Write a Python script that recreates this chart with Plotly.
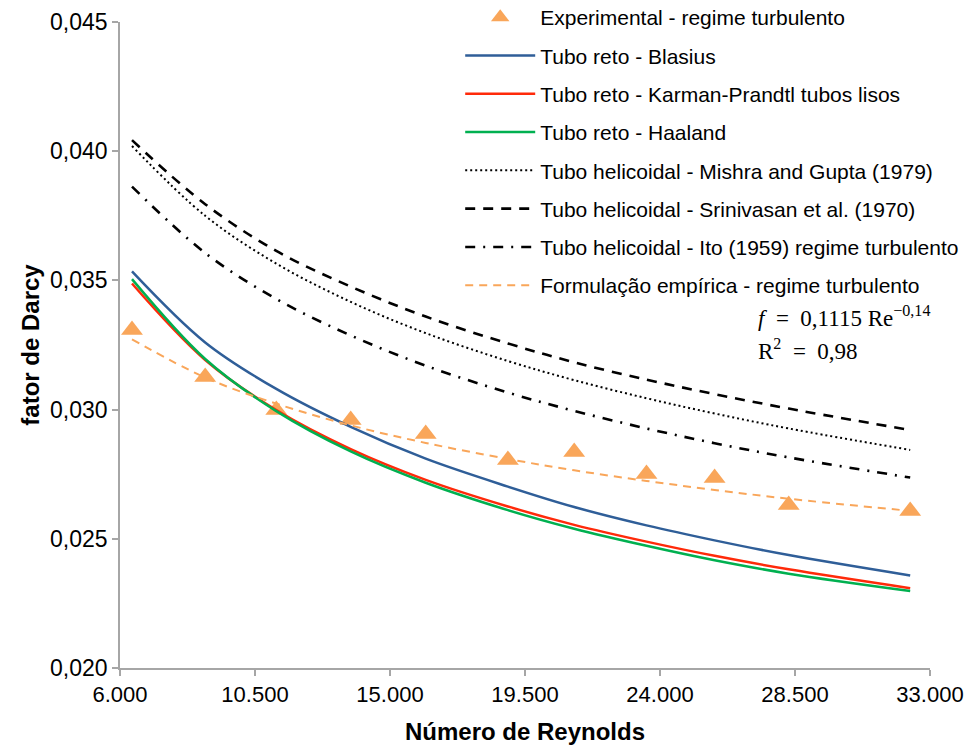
import plotly.graph_objects as go

# Reynolds numbers of the experimental points
re_exp = [6400, 8840, 11210, 13690, 16190, 18930, 21140, 23550, 25820, 28290, 32340]
f_exp = [0.03308, 0.03126, 0.02998, 0.02960, 0.02906, 0.02805, 0.02836, 0.02751, 0.02735, 0.02631, 0.02608]

f_blasius = [0.03535, 0.03260, 0.03080, 0.02933, 0.02810, 0.02702, 0.02623, 0.02552, 0.02494, 0.02437, 0.02358]
f_karman = [0.03488, 0.03192, 0.02998, 0.02847, 0.02728, 0.02625, 0.02554, 0.02489, 0.02434, 0.02382, 0.02309]
f_haaland = [0.03505, 0.03196, 0.02994, 0.02838, 0.02717, 0.02611, 0.02539, 0.02473, 0.02417, 0.02365, 0.02298]
f_mishra = [0.04020, 0.03750, 0.03565, 0.03417, 0.03296, 0.03188, 0.03114, 0.03044, 0.02985, 0.02927, 0.02844]
f_srini = [0.04043, 0.03795, 0.03614, 0.03476, 0.03360, 0.03256, 0.03183, 0.03116, 0.03060, 0.03004, 0.02921]
f_ito = [0.03863, 0.03606, 0.03428, 0.03287, 0.03170, 0.03066, 0.02995, 0.02927, 0.02870, 0.02815, 0.02737]
f_emp = [0.03272, 0.03124, 0.03023, 0.02939, 0.02871, 0.02809, 0.02765, 0.02724, 0.02689, 0.02655, 0.02608]

x_ticks = [6000, 10500, 15000, 19500, 24000, 28500, 33000]
y_ticks = [0.020, 0.025, 0.030, 0.035, 0.040, 0.045]

fig = go.Figure()

fig.add_trace(go.Scatter(x=re_exp, y=f_exp, mode="markers", name="Experimental - regime turbulento",
                         legendgroup="a",
                         marker=dict(symbol="triangle-up", size=19, color="#F9A65A")))
fig.add_trace(go.Scatter(x=re_exp, y=f_blasius, mode="lines", name="Tubo reto - Blasius", legendgroup="b",
                         line=dict(color="#2F5E98", width=2.5, shape="spline")))
fig.add_trace(go.Scatter(x=re_exp, y=f_karman, mode="lines", name="Tubo reto - Karman-Prandtl tubos lisos",
                         legendgroup="c", line=dict(color="#FF2A0A", width=2.5, shape="spline")))
fig.add_trace(go.Scatter(x=re_exp, y=f_haaland, mode="lines", name="Tubo reto - Haaland", legendgroup="d",
                         line=dict(color="#00B050", width=2.5, shape="spline")))
fig.add_trace(go.Scatter(x=re_exp, y=f_mishra, mode="lines", name="Tubo helicoidal - Mishra and Gupta (1979)",
                         legendgroup="e", line=dict(color="black", width=2, dash="2px,3px", shape="spline")))
fig.add_trace(go.Scatter(x=re_exp, y=f_srini, mode="lines", name="Tubo helicoidal - Srinivasan et al. (1970)",
                         legendgroup="f", line=dict(color="black", width=2.6, dash="10px,8px", shape="spline")))
fig.add_trace(go.Scatter(x=re_exp, y=f_ito, mode="lines", name="Tubo helicoidal - Ito (1959) regime turbulento",
                         legendgroup="g", line=dict(color="black", width=2.6, dash="10px,8px,2px,8px", shape="spline")))
fig.add_trace(go.Scatter(x=re_exp, y=f_emp, mode="lines", name="Formulação empírica - regime turbulento",
                         legendgroup="h", line=dict(color="#F9A65A", width=2, dash="8px,6px", shape="spline")))

axis_color = "#A6A6A6"
fig.update_layout(
    width=970, height=746,
    margin=dict(l=120, r=40, t=22, b=78, autoexpand=False),
    paper_bgcolor="white", plot_bgcolor="white",
    separators=",.",
    font=dict(family="Liberation Sans, Arial, sans-serif", color="black", size=22),
    showlegend=True,
    legend=dict(x=0.42, y=1.0387, xanchor="left", yanchor="top", bgcolor="rgba(0,0,0,0)",
                font=dict(size=21, family="Liberation Sans, Arial, sans-serif"),
                tracegroupgap=8, itemwidth=70, traceorder="grouped"),
    xaxis=dict(range=[6000, 33000], tickvals=x_ticks, tickformat=",.0f",
               showgrid=False, zeroline=False, showline=True, linecolor=axis_color, linewidth=1.5,
               ticks="outside", ticklen=6, tickcolor=axis_color, tickwidth=1.5,
               tickfont=dict(size=22),
               title=dict(text="<b>Número de Reynolds</b>", font=dict(size=24), standoff=17)),
    yaxis=dict(range=[0.020, 0.045], tickvals=y_ticks, tickformat=".3f",
               showgrid=False, zeroline=False, showline=True, linecolor=axis_color, linewidth=1.5,
               ticks="outside", ticklen=6, tickcolor=axis_color, tickwidth=1.5,
               tickfont=dict(size=23),
               title=dict(text="<b>fator de Darcy</b>", font=dict(size=24), standoff=4)),
)

fig.add_annotation(xref="paper", yref="paper", x=(756 - 120) / 810, y=(668 - 316) / 646,
                   xanchor="left", yanchor="middle", showarrow=False,
                   text="<i>f</i>&#8194;=&#8194;0,1115 Re<sup>−0,14</sup>",
                   font=dict(family="Liberation Serif, Times New Roman, serif", size=23))
fig.add_annotation(xref="paper", yref="paper", x=(756 - 120) / 810, y=(668 - 349) / 646,
                   xanchor="left", yanchor="middle", showarrow=False,
                   text="R<sup>2</sup>&#8194;=&#8194;0,98",
                   font=dict(family="Liberation Serif, Times New Roman, serif", size=23))

fig.write_html("out.html")
